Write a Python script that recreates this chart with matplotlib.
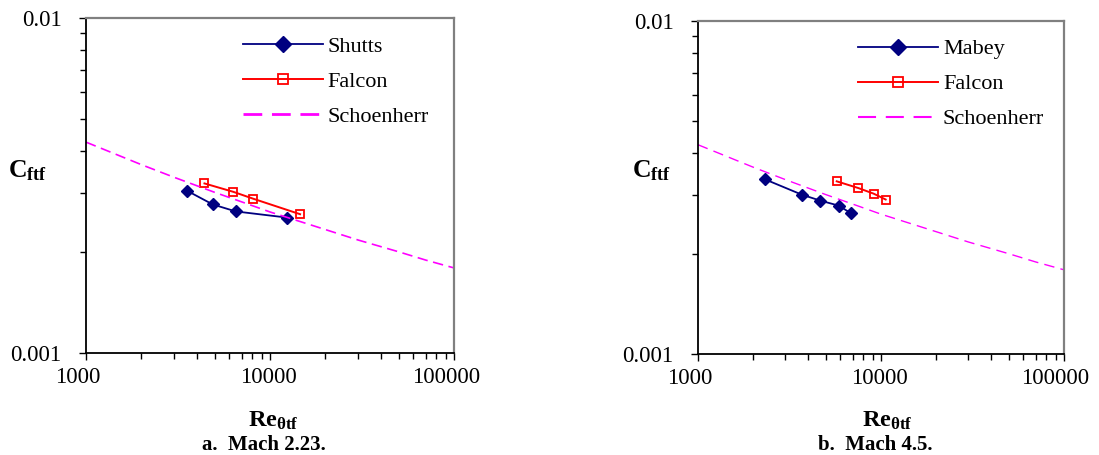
import numpy as np
import matplotlib.pyplot as plt
import matplotlib.transforms as mtransforms
from matplotlib.lines import Line2D
from matplotlib.ticker import LogLocator, FixedLocator, NullFormatter

plt.rcParams['font.family'] = 'Liberation Serif'
plt.rcParams['mathtext.fontset'] = 'custom'
plt.rcParams['mathtext.rm'] = 'Liberation Serif'
plt.rcParams['mathtext.bf'] = 'Liberation Serif:bold'
plt.rcParams['mathtext.it'] = 'Liberation Serif:italic'
plt.rcParams['lines.scale_dashes'] = False

# Schoenherr curve
re_sch = [1000, 2000, 3000, 5000, 7000, 10000, 20000, 30000, 50000, 70000, 100000]
cf_sch = [0.00425, 0.00364, 0.00334, 0.00301, 0.00282, 0.00263,
          0.00233, 0.00217, 0.00200, 0.00189, 0.00179]

# a. Mach 2.23
re_shutts = [3550, 4880, 6510, 12420]
cf_shutts = [0.00304, 0.00277, 0.00264, 0.00253]
re_falcon_a = [4400, 6320, 8110, 14560]
cf_falcon_a = [0.00320, 0.00302, 0.00288, 0.00259]

# b. Mach 4.5
re_mabey = [2310, 3690, 4640, 5870, 6830]
cf_mabey = [0.00335, 0.00301, 0.00289, 0.00279, 0.00265]
re_falcon_b = [5730, 7520, 9120, 10610]
cf_falcon_b = [0.00330, 0.00315, 0.00303, 0.00291]

xticks = [1000, 10000, 100000]
xticklabels = ['1000', '10000', '100000']
yticks = [0.001, 0.01]
yticklabels = ['0.001', '0.01']

W, H = 1099, 455
fig = plt.figure(figsize=(10.99, 4.55), dpi=100)
ax1 = fig.add_axes([0.0783, 0.2249, 0.3349, 0.7363])
ax2 = fig.add_axes([0.6351, 0.2220, 0.3330, 0.7319])


def setup(ax):
    ax.set_xscale('log')
    ax.set_yscale('log')
    ax.set_xlim(1000, 100000)
    ax.set_ylim(0.001, 0.01)
    ax.xaxis.set_major_locator(FixedLocator(xticks))
    ax.set_xticklabels([])
    ax.yaxis.set_major_locator(FixedLocator(yticks))
    ax.set_yticklabels(yticklabels)
    ax.xaxis.set_minor_locator(LogLocator(base=10, subs=np.arange(2, 10)))
    ax.yaxis.set_minor_locator(LogLocator(base=10, subs=np.arange(2, 10)))
    ax.xaxis.set_minor_formatter(NullFormatter())
    ax.yaxis.set_minor_formatter(NullFormatter())
    ax.tick_params(which='major', direction='out', length=5, width=1.0,
                   labelsize=16.5)
    ax.tick_params(axis='y', which='major', pad=12.5)
    ax.tick_params(which='minor', direction='out', length=4, width=1.0)
    for s in ['left', 'bottom']:
        ax.spines[s].set_color('black')
        ax.spines[s].set_linewidth(1.3)
    for s in ['top', 'right']:
        ax.spines[s].set_color('#808080')
        ax.spines[s].set_linewidth(1.6)
    # x labels as in the original: end labels sit a little to the left
    base = ax.get_xaxis_transform()
    for val, lab, dx in zip(xticks, xticklabels, [-6, -1, -6]):
        tr = mtransforms.offset_copy(base, fig=fig, x=dx, y=-10.4,
                                     units='points')
        ax.text(val, 0, lab, transform=tr, fontsize=16.5, ha='center',
                va='top')


setup(ax1)
setup(ax2)

# left panel
h1 = ax1.plot(re_shutts, cf_shutts, color='#000080', lw=1.3, marker='D',
              ms=6.5)[0]
h2 = ax1.plot(re_falcon_a, cf_falcon_a, color='red', lw=1.4, marker='s',
              ms=5.8, mfc='none', mew=1.3)[0]
ax1.plot(re_sch, cf_sch, color='#FF00FF', lw=1.2, dashes=(7.5, 4))
h3 = Line2D([], [], color='#FF00FF', lw=2.0, dashes=(13.5, 7))
ax1.legend([h1, h2, h3], ['Shutts', 'Falcon', 'Schoenherr'],
           loc='upper left', bbox_to_anchor=(0.383, 0.991), frameon=False,
           fontsize=16, handlelength=3.6, handletextpad=0.2,
           labelspacing=0.65, markerscale=1.3, borderaxespad=0.3)

# right panel
g1 = ax2.plot(re_mabey, cf_mabey, color='#000080', lw=1.3, marker='D',
              ms=6.5)[0]
g2 = ax2.plot(re_falcon_b, cf_falcon_b, color='red', lw=1.4, marker='s',
              ms=5.8, mfc='none', mew=1.3)[0]
ax2.plot(re_sch, cf_sch, color='#FF00FF', lw=1.0, dashes=(7.5, 4.5))
g3 = Line2D([], [], color='#FF00FF', lw=1.5, dashes=(13, 7))
ax2.legend([g1, g2, g3], ['Mabey', 'Falcon', 'Schoenherr'],
           loc='upper left', bbox_to_anchor=(0.396, 0.993), frameon=False,
           fontsize=16, handlelength=3.6, handletextpad=0.2,
           labelspacing=0.65, markerscale=1.3, borderaxespad=0.3)

# axis labels
for xc in [27, 651]:
    fig.text(xc / W, 1 - 177 / H, r'$\mathbf{C_{ftf}}$', fontsize=18.5,
             ha='center', va='baseline')
for xc in [273, 887]:
    fig.text(xc / W, 1 - 427 / H, r'$\mathbf{Re_{\theta tf}}$',
             fontsize=17.5, ha='center', va='baseline')
fig.text(264 / W, 1 - 450 / H, 'a.  Mach 2.23.', fontsize=15,
         fontweight='bold', ha='center', va='baseline')
fig.text(875 / W, 1 - 450 / H, 'b.  Mach 4.5.', fontsize=15,
         fontweight='bold', ha='center', va='baseline')

fig.savefig('out.png', dpi=100)
